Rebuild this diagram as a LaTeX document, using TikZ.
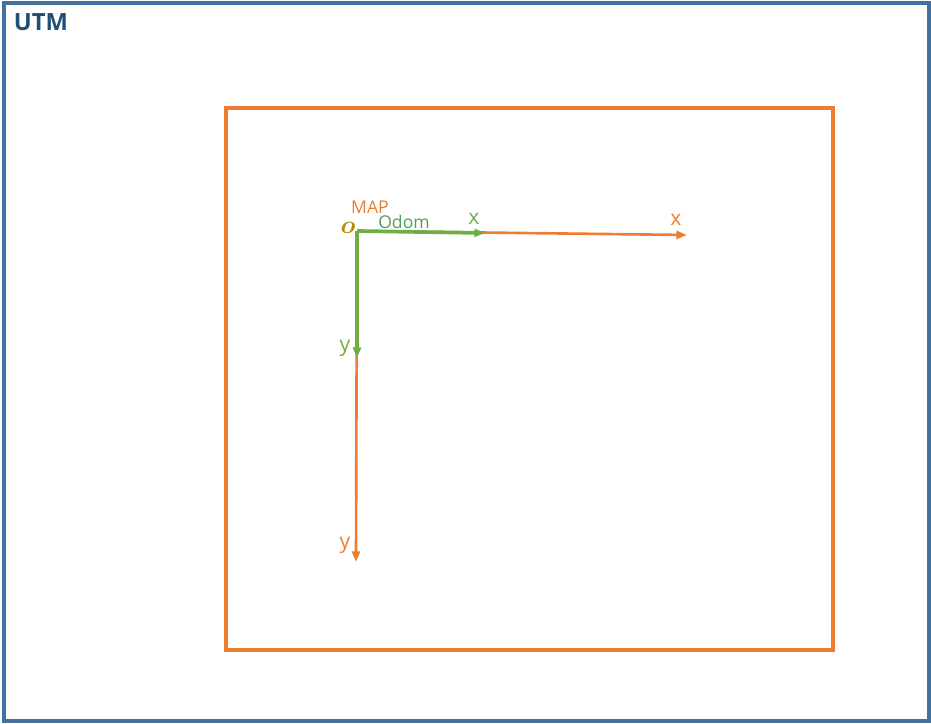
\documentclass[tikz,border=0pt]{standalone}
\usepackage{bm}
\usepackage{fontspec}
\setmainfont{Open Sans}
\usepackage{tikz}
\usetikzlibrary{arrows.meta, positioning}
\tikzset{>={Triangle[length=6pt,width=4.5pt]}}
\definecolor{utmblue}{HTML}{41719C}
\definecolor{maporange}{HTML}{ED7D31}
\definecolor{odomgreen}{HTML}{70AD47}
\definecolor{utmtext}{HTML}{1F4E79}
\tikzset{
  mapaxis/.style={maporange, line width=1.5pt, ->},
  odomaxis/.style={odomgreen, line width=2.1pt, ->},
  lbl/.style={inner sep=0pt, font=\fontsize{12}{14}\selectfont}
}

\begin{document}
\begin{tikzpicture}[x=0.02cm, y=-0.02cm]
			\useasboundingbox (0,0) rectangle (931,724);
			\draw [utmblue, line width=2.4pt] (4,3) rectangle (929,721);
			\node [utmtext, inner sep=0pt, font=\fontsize{13.5}{15}\selectfont\bfseries] (utm) at (41,22) {UTM};
			\draw [maporange, line width=2.2pt] (226,108) rectangle (833,650);
			% map frame
			\coordinate (o) at (357,231);
			\coordinate (mapx) at (687,235);
			\coordinate (mapy) at (356,562);
			\draw [mapaxis] (o) -- (mapx);
			\draw [mapaxis] (o) -- (mapy);
			% odom frame
			\coordinate (odomx) at (485,233);
			\coordinate (odomy) at (357,358);
			\draw [odomaxis] (o) -- (odomx);
			\draw [odomaxis] (o) -- (odomy);
			\node [lbl, maporange, font=\fontsize{10}{12}\selectfont] (maplbl) at (370,207) {MAP};
			\node [lbl, odomgreen!70!teal, font=\fontsize{10}{12}\selectfont] (odomlbl) at (404,222) {Odom};
			\node [lbl, olive!70!orange, font=\fontsize{14}{16}\selectfont] (olbl) at (348,228) {\(\bm{o}\)};
			\node [lbl, odomgreen] (odomxlbl) at (474,219) {x};
			\node [lbl, maporange] (mapxlbl) at (676,220) {x};
			\node [lbl, odomgreen] (odomylbl) at (345,348) {y};
			\node [lbl, maporange] (mapylbl) at (345,545) {y};
		\end{tikzpicture}
\end{document}
